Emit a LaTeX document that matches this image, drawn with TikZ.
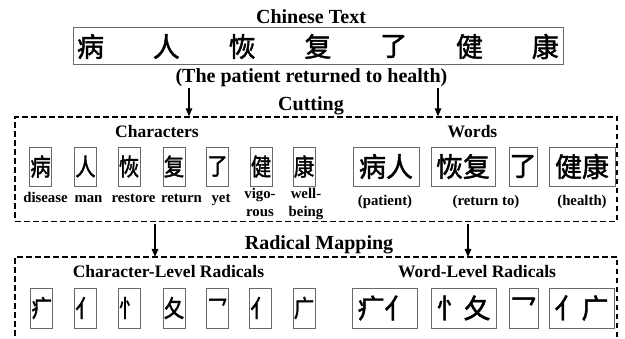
\documentclass[tikz,border=0pt]{standalone}
\usepackage{fontspec}
\usepackage{graphicx}
\setmainfont{Liberation Serif}
\newfontfamily\cjk{Noto Sans CJK SC}[FakeBold=1.6]
\usetikzlibrary{arrows.meta}
\definecolor{boxgray}{RGB}{105,105,105}
\begin{document}
\begin{tikzpicture}[x=1pt,y=-1pt,
  ttl/.style={font=\fontsize{20}{22}\selectfont\bfseries, inner sep=0, anchor=base},
  sub/.style={font=\fontsize{17.5}{20}\selectfont\bfseries, inner sep=0, anchor=base},
  lbl/.style={font=\fontsize{14.8}{18}\selectfont\bfseries, inner sep=0, anchor=base, align=center},
  topch/.style={font=\cjk\fontsize{27}{27}\selectfont, inner sep=0},
  sbox/.style={draw=boxgray, line width=0.8pt, minimum width=22pt, minimum height=39pt, inner sep=0,
    font=\cjk\fontsize{24}{24}\selectfont},
  wbox/.style={draw=boxgray, line width=0.8pt, minimum height=39pt, inner sep=0,
    font=\cjk\fontsize{27}{27}\selectfont},
  dbox/.style={draw=black, line width=1.3pt, dash pattern=on 5.5pt off 3.5pt},
  arr/.style={draw=black, line width=1.3pt, -{Triangle[length=8pt,width=6.5pt]}}
]
\clip (0,0) rectangle (625,339);
% ---------- top ----------
\node[ttl] (title) at (311,24) {Chinese Text};
\node[draw=boxgray, line width=0.9pt, minimum width=490pt, minimum height=37pt, inner sep=0] (sentbox) at (318,45.5) {};
\foreach \c [count=\i from 0] in {病,人,恢,复,了,健,康}{
  \node[topch] (t\i) at (90.5+75.8*\i,46.5) {\c};
}
\node[ttl] (trans) at (311.5,83) {(The patient returned to health)};
\node[ttl] (cut) at (311,111) {Cutting};
% ---------- cutting box ----------
\node[dbox, minimum width=602pt, minimum height=104.5pt, inner sep=0] (cutbox) at (316,169.25) {};
\coordinate (a1) at (189,88);
\coordinate (a2) at (438,88);
\draw[arr] (a1) -- (a1 |- cutbox.north);
\draw[arr] (a2) -- (a2 |- cutbox.north);
\node[sub] (chars) at (157,138) {Characters};
\node[sub] (words) at (472.5,138) {Words};
% single characters
\node[sbox] (c1) at (40.5,166.5) {\scalebox{0.85}[1]{病}};
\node[sbox] (c2) at (85.5,166.5) {\scalebox{0.85}[1]{人}};
\node[sbox] (c3) at (129,166.5) {\scalebox{0.85}[1]{恢}};
\node[sbox] (c4) at (174,166.5) {\scalebox{0.85}[1]{复}};
\node[sbox] (c5) at (217.5,166.5) {\scalebox{0.85}[1]{了}};
\node[sbox] (c6) at (261,166.5) {\scalebox{0.85}[1]{健}};
\node[sbox] (c7) at (304,166.5) {\scalebox{0.85}[1]{康}};
\node[lbl] (l1) at (45.5,202.5) {disease};
\node[lbl] (l2) at (88.5,202.5) {man};
\node[lbl] (l3) at (133.5,202.5) {restore};
\node[lbl] (l4) at (181.5,202.5) {return};
\node[lbl] (l5) at (221,202.5) {yet};
\node[lbl] (l6) at (260,217) {vigo-\\rous};
\node[lbl] (l7) at (306,217) {well-\\being};
% words
\node[wbox, minimum width=66pt] (w1) at (386,166.5) {病人};
\node[wbox, minimum width=64pt] (w2) at (463,166.5) {恢复};
\node[wbox, minimum width=28pt] (w3) at (523,166.5) {了};
\node[wbox, minimum width=66pt] (w4) at (582,166.5) {健康};
\node[lbl] (m1) at (385,205.5) {(patient)};
\node[lbl] (m2) at (486,205.5) {(return to)};
\node[lbl] (m3) at (582,205.5) {(health)};
% ---------- radical mapping ----------
\node[ttl] (rm) at (319,250) {Radical Mapping};
\coordinate (b1) at (155,224);
\coordinate (b2) at (468,224);
\path (15,257) coordinate (rbl) (617,257) coordinate (rbr);
\draw[dbox] (15,345) -- (rbl) -- (rbr) -- (617,345);
\draw[arr] (b1) -- (b1 |- rbl);
\draw[arr] (b2) -- (b2 |- rbl);
\node[sub] (clr) at (168.5,278) {Character-Level Radicals};
\node[sub] (wlr) at (477,278) {Word-Level Radicals};
\node[sbox, minimum height=40pt] (r1) at (41.7,308) {\scalebox{0.85}[1]{疒}};
\node[sbox, minimum height=40pt] (r2) at (85.5,308) {\scalebox{0.85}[1]{亻}};
\node[sbox, minimum height=40pt] (r3) at (129,308) {\scalebox{0.85}[1]{忄}};
\node[sbox, minimum height=40pt] (r4) at (174,308) {\scalebox{0.85}[1]{夂}};
\node[sbox, minimum height=40pt] (r5) at (217.5,308) {\scalebox{0.85}[1]{乛}};
\node[sbox, minimum height=40pt] (r6) at (260.5,308) {\scalebox{0.85}[1]{亻}};
\node[sbox, minimum height=40pt] (r7) at (304,308) {\scalebox{0.85}[1]{广}};
\node[wbox, minimum height=40pt, minimum width=65pt] (v1) at (384.5,308) {疒亻};
\node[wbox, minimum height=40pt, minimum width=65pt] (v2) at (463.5,308) {忄夂};
\node[wbox, minimum height=40pt, minimum width=29pt] (v3) at (523.5,308) {乛};
\node[wbox, minimum height=40pt, minimum width=65pt] (v4) at (581.5,308) {亻广};
\end{tikzpicture}
\end{document}
